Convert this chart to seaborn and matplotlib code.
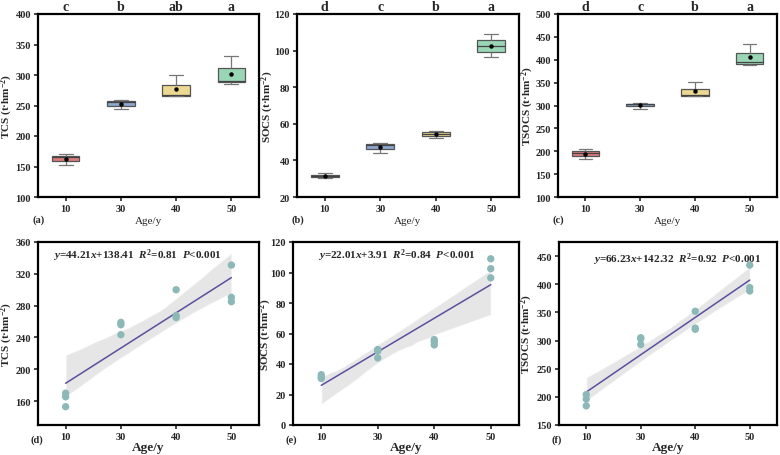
import numpy as np
import pandas as pd
import matplotlib
matplotlib.use('Agg')
import matplotlib.pyplot as plt
import matplotlib.transforms as mtransforms
import seaborn as sns

# ---------------------------------------------------------------------------
# Data (three plots per stand age)
# ---------------------------------------------------------------------------
ages = [10, 30, 40, 50]
age = [10, 10, 10, 30, 30, 30, 40, 40, 40, 50, 50, 50]
tcs = [153, 165.5, 170, 243.5, 256, 259, 265, 267.5, 300, 285, 290.5, 331]
socs = [30.5, 31.5, 33, 44, 48.5, 49.5, 52.5, 54.5, 56, 96.5, 102.5, 109]
tsocs = [184, 196, 204, 293, 303, 305, 320, 322, 352, 388, 394, 434]

letters_tcs = ['c', 'b', 'ab', 'a']
letters_socs = ['d', 'c', 'b', 'a']
letters_tsocs = ['d', 'c', 'b', 'a']

eq_tcs = r'$y$=44.21$x$+138.41  $R^2$=0.81  $P$<0.001'
eq_socs = r'$y$=22.01$x$+3.91  $R^2$=0.84  $P$<0.001'
eq_tsocs = r'$y$=66.23$x$+142.32  $R^2$=0.92  $P$<0.001'

box_colors = ['#EC6C6C', '#7EA6DC', '#FBE082', '#8FE0B6']

sns.set_style('ticks')
plt.rcParams['font.family'] = ['Liberation Serif', 'DejaVu Serif']
plt.rcParams['font.weight'] = 'bold'
plt.rcParams['axes.labelweight'] = 'bold'
plt.rcParams['mathtext.fontset'] = 'custom'
plt.rcParams['mathtext.rm'] = 'Liberation Serif:bold'
plt.rcParams['mathtext.it'] = 'Liberation Serif:italic:bold'
plt.rcParams['mathtext.bf'] = 'Liberation Serif:bold'

df = pd.DataFrame({'age': age, 'TCS': tcs, 'SOCS': socs, 'TSOCS': tsocs})
df['pos'] = df['age'].map({a: i + 1 for i, a in enumerate(ages)})

fig = plt.figure(figsize=(7.8, 4.56), dpi=100)

W, H = 780.0, 456.0
def add_ax(l, r, t, b):
    return fig.add_axes([l / W, 1 - b / H, (r - l) / W, (b - t) / H])

top_axes = [add_ax(38, 259, 15, 198), add_ax(297, 519, 15, 198), add_ax(558, 777, 15, 198)]
bot_axes = [add_ax(38, 259, 243, 426), add_ax(293, 519, 243, 426), add_ax(559, 777, 243, 426)]

cols = ['TCS', 'SOCS', 'TSOCS']
letters = [letters_tcs, letters_socs, letters_tsocs]
top_lims = [(100, 400, 50), (20, 120, 20), (100, 500, 50)]
bot_lims = [(130, 360, 160, 40), (0, 120, 0, 20), (150, 475, 150, 50)]
eqs = [eq_tcs, eq_socs, eq_tsocs]
eq_pos = [(0.45, 0.93), (0.46, 0.93), (0.54, 0.91)]
ylab_top = [-0.104, -0.095, -0.100]
ylab_bot = [-0.104, -0.084, -0.112]
tags_top = ['(a)', '(b)', '(c)']
tags_bot = ['(d)', '(e)', '(f)']

def style_axes(ax):
    for sp in ax.spines.values():
        sp.set_visible(True)
        sp.set_linewidth(1.6)
        sp.set_color('black')
    ax.tick_params(axis='both', direction='out', length=3, width=1.2,
                   labelsize=7.5, pad=2)
    for lab in ax.get_xticklabels() + ax.get_yticklabels():
        lab.set_fontweight('bold')

# ---------------------------------------------------------------------------
# Top row: box plots
# ---------------------------------------------------------------------------
for i, ax in enumerate(top_axes):
    col = cols[i]
    sns.boxplot(data=df, x='age', y=col, hue='age', order=ages, hue_order=ages,
                palette=box_colors, legend=False, width=0.5, ax=ax,
                showmeans=True, linewidth=0.9, linecolor='#555555',
                meanprops=dict(marker='o', markerfacecolor='black',
                               markeredgecolor='black', markersize=2.2),
                medianprops=dict(color='#444444', linewidth=0.9),
                whiskerprops=dict(color='#777777'),
                capprops=dict(color='#777777'))
    lo, hi, step = top_lims[i]
    ax.set_ylim(lo, hi)
    ax.set_yticks(np.arange(lo, hi + 1, step))
    ax.set_xlim(-0.5, 3.5)
    ax.set_xlabel('Age/y', fontsize=8, fontweight='normal', labelpad=2)
    ax.set_ylabel(col + r' (t·hm$^{-2}$)', fontsize=8)
    ax.yaxis.set_label_coords(ylab_top[i], 0.5)
    style_axes(ax)
    trans = mtransforms.blended_transform_factory(ax.transData, ax.transAxes)
    for j, let in enumerate(letters[i]):
        ax.text(j, 1.02, let, transform=trans, ha='center', va='baseline',
                fontsize=10, fontweight='bold')
    ax.text(-0.025, -0.12, tags_top[i], transform=ax.transAxes, ha='left',
            va='center', fontsize=7.5, fontweight='bold')

# ---------------------------------------------------------------------------
# Bottom row: linear regressions against age class
# ---------------------------------------------------------------------------
for i, ax in enumerate(bot_axes):
    col = cols[i]
    sns.regplot(data=df, x='pos', y=col, ax=ax, scatter=False, ci=95, seed=1,
                line_kws=dict(color='#5B4F9F', linewidth=1.1))
    ax.collections[-1].set_facecolor('#d3d3d3')
    ax.collections[-1].set_alpha(0.55)
    sns.scatterplot(data=df, x='pos', y=col, ax=ax, color='#8DB8B8', s=28,
                    edgecolor='none', zorder=5)
    ax.set_xlim(0.5, 4.5)
    ax.set_xticks(range(1, 5))
    ax.set_xticklabels([str(a) for a in ages])
    lo, hi, t0, step = bot_lims[i]
    ax.set_ylim(lo, hi)
    ax.set_yticks(np.arange(t0, hi + 1, step))
    ax.set_xlabel('Age/y', fontsize=9.5, labelpad=0)
    ax.set_ylabel(col + r' (t·hm$^{-2}$)', fontsize=8)
    ax.yaxis.set_label_coords(ylab_bot[i], 0.5)
    style_axes(ax)
    ax.text(eq_pos[i][0], eq_pos[i][1], eqs[i], transform=ax.transAxes,
            ha='center', va='center', fontsize=8)
    ax.text(-0.035, -0.075, tags_bot[i], transform=ax.transAxes, ha='left',
            va='center', fontsize=7.5, fontweight='bold')

fig.savefig('out.png', dpi=100)
